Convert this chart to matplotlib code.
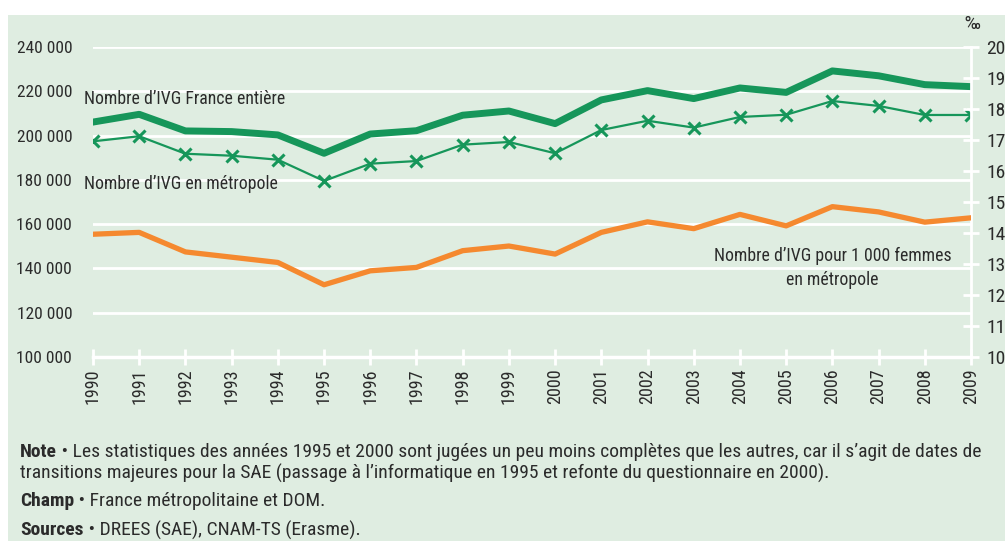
import numpy as np
import matplotlib.pyplot as plt
from matplotlib.patches import Rectangle

plt.rcParams['font.family'] = ['Liberation Sans Narrow', 'Roboto Condensed', 'Liberation Sans', 'DejaVu Sans']

annees = list(range(1990, 2010))
ivg_france = [206100, 209600, 202100, 201800, 200300, 192000, 200700, 202200, 209200, 211100,
              205400, 216100, 220300, 216700, 221500, 219500, 229200, 227000, 223000, 222100]
ivg_metro = [197400, 199700, 191800, 190900, 189100, 179500, 187300, 188500, 195900, 197100,
             192000, 202500, 206700, 203600, 208400, 209400, 215600, 213400, 209300, 209300]
taux_metro = [13.96, 14.02, 13.39, 13.22, 13.05, 12.33, 12.78, 12.89, 13.43, 13.58,
              13.32, 14.02, 14.36, 14.14, 14.60, 14.23, 14.85, 14.68, 14.35, 14.49]

left_ticks = [100000, 120000, 140000, 160000, 180000, 200000, 220000, 240000]
left_labels = ['100 000', '120 000', '140 000', '160 000', '180 000', '200 000', '220 000', '240 000']
right_ticks = list(range(10, 21))

bg = '#dfede1'
vert = '#16965a'
orange = '#f5892f'
txt = '#2b2b2b'

fig = plt.figure(figsize=(10.05, 5.41), dpi=100)
fig.patches.append(Rectangle((8 / 1005, 0), 1, 1 - 15 / 541, transform=fig.transFigure,
                             facecolor=bg, edgecolor='none', zorder=-10))

ax = fig.add_axes([93 / 1005, 1 - 357 / 541, (971 - 93) / 1005, (357 - 47) / 541])
ax.set_facecolor('none')
ax.set_xlim(1990, 2009)
ax.set_ylim(100000, 240000)
for s in ax.spines.values():
    s.set_visible(False)

for v in left_ticks[1:]:
    ax.axhline(v, color='white', lw=2, zorder=1)
ax.axhline(100000, color='white', lw=2.5, zorder=1, clip_on=False)

ax.set_yticks(left_ticks)
ax.set_yticklabels(left_labels, fontsize=12.5, color=txt)
ax.tick_params(axis='y', length=0, pad=15)
ax.set_xticks(annees)
ax.set_xticklabels([str(a) for a in annees], rotation=90, fontsize=13, color=txt)
ax.tick_params(axis='x', direction='inout', length=12, width=2, color='white', pad=2)

ax.plot(annees, ivg_france, color=vert, lw=5, zorder=3)
ax.plot(annees, ivg_metro, color=vert, lw=1.6, marker='x', ms=8, mew=2.2, zorder=3)

ax2 = ax.twinx()
ax2.set_ylim(10, 20)
ax2.set_xlim(1990, 2009)
for k, s in ax2.spines.items():
    s.set_visible(k == 'right')
ax2.spines['right'].set_color('white')
ax2.spines['right'].set_linewidth(2)
ax2.set_yticks(right_ticks)
ax2.set_yticklabels([str(t) for t in right_ticks], fontsize=14, color=txt)
ax2.tick_params(axis='y', direction='inout', length=12, width=2, color='white', pad=5)
ax2.plot(annees, taux_metro, color=orange, lw=3.8, zorder=3)

ax2.text(1.002, 1.045, '‰', transform=ax2.transAxes, fontsize=14, color=txt, ha='center', va='bottom')

ax.text(1989.8, 216500, "Nombre d’IVG France entière", fontsize=12.8, color=txt, va='center')
ax.text(1989.8, 178200, "Nombre d’IVG en métropole", fontsize=12.8, color=txt, va='center')
ax2.text(2006.0, 12.87, "Nombre d’IVG pour 1 000 femmes\nen métropole", fontsize=12.8, color=txt,
         ha='center', va='center', linespacing=1.45)

notes = [
    ('Note', ' • Les statistiques des années 1995 et 2000 sont jugées un peu moins complètes que les autres, car il s’agit de dates de', 452),
    ('', 'transitions majeures pour la SAE (passage à l’informatique en 1995 et refonte du questionnaire en 2000).', 473),
    ('Champ', ' • France métropolitaine et DOM.', 501),
    ('Sources', ' • DREES (SAE), CNAM-TS (Erasme).', 530),
]
fig.canvas.draw()
rend = fig.canvas.get_renderer()
for bold, rest, ypix in notes:
    x0 = 20 / 1005
    y0 = 1 - ypix / 541
    if bold:
        t = fig.text(x0, y0, bold, fontsize=14, fontweight='bold', color=txt, va='center')
        bb = t.get_window_extent(renderer=rend)
        x0 = (bb.x1) / fig.bbox.width
    fig.text(x0, y0, rest, fontsize=14, color=txt, va='center')

fig.savefig('out.png', dpi=100)
